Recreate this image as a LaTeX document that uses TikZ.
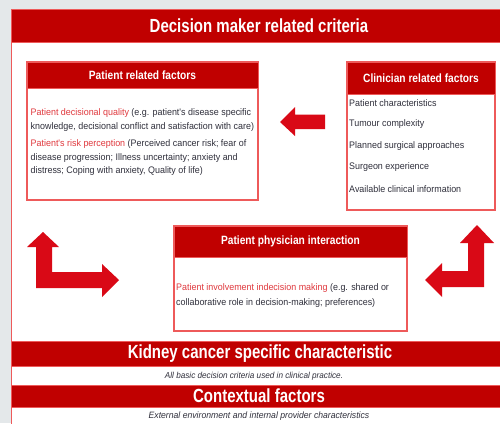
\documentclass[tikz,border=0pt]{standalone}
\usepackage{fontspec}
\setmainfont{Liberation Sans}
\newfontfamily\headfont[FakeStretch=0.79]{Liberation Sans}
\newfontfamily\boxheadfont[FakeStretch=0.85]{Liberation Sans}
\newfontfamily\bodyfont[FakeStretch=0.94]{Liberation Sans}

\definecolor{hdrred}{HTML}{C00000}
\definecolor{arrred}{HTML}{D90916}
\definecolor{edgered}{HTML}{EE5A5A}
\definecolor{txtred}{HTML}{E0393E}
\definecolor{txtdark}{HTML}{30303C}
\definecolor{bggray}{HTML}{E4E8EA}

\tikzset{
  panel/.style={draw=edgered, line width=1.2pt, fill=white},
  hdrband/.style={fill=hdrred, draw=edgered, line width=0.8pt},
  blockarrow/.style={fill=arrred, draw=none},
  bighead/.style={text=white, font=\headfont\bfseries\fontsize{19}{21}\selectfont, inner sep=0pt},
  boxhead/.style={text=white, font=\boxheadfont\bfseries\fontsize{12}{14}\selectfont, inner sep=0pt},
  bodytext/.style={text=txtdark, font=\bodyfont\fontsize{9.5}{13.5}\selectfont, inner sep=0pt, align=left},
  notetext/.style={text=txtdark, font=\bodyfont\itshape\fontsize{9.2}{10}\selectfont, inner sep=0pt},
}

\begin{document}
\begin{tikzpicture}[x=1pt,y=-1pt]
\useasboundingbox (0,0) rectangle (500,423);
% page backdrop and outer frame
\fill[bggray] (0,0) rectangle (500,423);
\fill[white] (11,9) rectangle (503,426);
\draw[edgered, line width=1.2pt] (11.6,426) -- (11.6,9.6) -- (503,9.6);

% top heading band
\path[hdrband] (11.6,9.6) rectangle (503,42);
\node[bighead] (mainhead) at (259,26) {Decision maker related criteria};

% patient related factors
\path[panel] (27,62) rectangle (258,200);
\path[hdrband] (27,62) rectangle (258,88);
\node[boxhead] (pathead) at (142.5,75) {Patient related factors};
\node[bodytext, anchor=north west] (patbody) at (30.5,108.5)
  {\textcolor{txtred}{Patient decisional quality} (e.g. patient's disease specific\\
   knowledge, decisional conflict and satisfaction with care)\\[4pt]
   \textcolor{txtred}{Patient's risk perception} (Perceived cancer risk; fear of\\
   disease progression; Illness uncertainty; anxiety and\\
   distress; Coping with anxiety, Quality of life)};

% clinician related factors
\path[panel] (347,62) rectangle (495,210);
\path[hdrband] (347,62) rectangle (495,94);
\node[boxhead] (clinhead) at (421,78) {Clinician related factors};
\foreach \txt [count=\i] in {Patient characteristics, Tumour complexity,
    Planned surgical approaches, Surgeon experience, Available clinical information}
  \node[bodytext, anchor=west] (clin\i) at (349,{81.5+21.5*\i}) {\txt};

% patient physician interaction
\path[panel] (174,226) rectangle (407,331);
\path[hdrband] (174,226) rectangle (407,257);
\node[boxhead] (inthead) at (290.5,241.5) {Patient physician interaction};
\node[bodytext, anchor=north west, font=\bodyfont\fontsize{9.5}{15}\selectfont] (intbody) at (176,283.5)
  {\textcolor{txtred}{Patient involvement indecision making} (e.g. shared or\\
   collaborative role in decision-making; preferences)};

% block arrows between the boxes
\path[blockarrow] (280,122) -- (295,107) -- (295,114.5) -- (325,114.5)
  -- (325,129) -- (295,129) -- (295,136) -- cycle;
\path[blockarrow] (43,232) -- (59,247) -- (52,247) -- (52,272) -- (102,272)
  -- (102,264) -- (119,280) -- (102,297) -- (102,288) -- (36,288)
  -- (36,247) -- (27,247) -- cycle;
\path[blockarrow] (477,225) -- (494,243) -- (484,243) -- (484,287) -- (442,287)
  -- (442,297) -- (425,280) -- (442,263) -- (442,271) -- (468,271)
  -- (468,243) -- (460,243) -- cycle;

% bottom bands
\path[hdrband] (11.6,341) rectangle (503,366);
\node[bighead] (kidhead) at (260,354) {Kidney cancer specific characteristic};
\path[draw=edgered, line width=0.8pt, fill=white] (11.6,366) rectangle (503,385);
\node[notetext, font=\bodyfont\itshape\fontsize{8.7}{10}\selectfont] (kidnote) at (254,376.5) {All basic decision criteria used in clinical practice.};
\path[hdrband] (11.6,385) rectangle (503,407);
\node[bighead] (ctxhead) at (259,396) {Contextual factors};
\path[draw=edgered, line width=0.8pt, fill=white] (11.6,407) rectangle (503,426);
\node[notetext] (ctxnote) at (259,416.5) {External environment and internal provider characteristics};
\end{tikzpicture}
\end{document}
